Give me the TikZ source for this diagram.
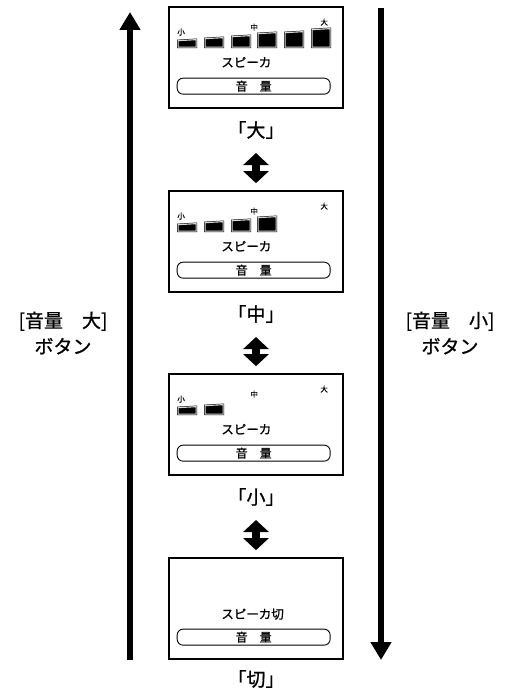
\documentclass[tikz,border=0pt]{standalone}
\usepackage{fontspec}
\setmainfont{Noto Sans CJK JP}[RawFeature={embolden=0.9}]
\usetikzlibrary{arrows.meta,calc}

\begin{document}
\begin{tikzpicture}[x=1pt,y=-1pt,
  screen/.style={draw, line width=1.7pt, minimum width=174pt, minimum height=101pt, inner sep=0pt},
  lvl/.style={font=\fontsize{19}{19}\selectfont, inner sep=0pt},
  tiny/.style={font=\fontsize{7.5}{7.5}\selectfont, inner sep=0pt},
  spk/.style={font=\fontsize{12.5}{12.5}\selectfont, inner sep=0pt, anchor=west},
  pill/.style={draw, line width=0.9pt, rounded corners=6pt, minimum width=153pt, minimum height=16pt, inner sep=0pt, font=\fontsize{12}{12}\selectfont},
  bar/.style={draw=black, line width=0.5pt, double=gray!30, double distance=1.1pt, fill=black},
  updown/.style={line width=8pt, {Triangle[width=25pt,length=12pt]}-{Triangle[width=25pt,length=12pt]}},
  big/.style={line width=6pt, -{Triangle[width=20pt,length=18pt]}},
  side/.style={align=center, font=\fontsize{19}{26}\selectfont, inner sep=0pt}]
\useasboundingbox (0,0) rectangle (504,693);
% four screens
\node[screen] (hi)  at (256,57.5)  {};
\node[screen] (md)  at (256,241.5) {};
\node[screen] (lo)  at (256,424.5) {};
\node[screen] (off) at (256,608.5) {};
% level bars and small marks
\foreach \s/\n in {hi/6,md/4,lo/2} {
  \foreach \bx/\bt [count=\i] in {10/34,37/32,64/30,90/27,117/26,144/23} {
    \ifnum\i>\n\else
      \draw[bar] ($(\s.north west)+(\bx,41)$) -- ($(\s.north west)+(\bx,\bt+0.5)$)
        -- ($(\s.north west)+(\bx+18,\bt-0.5)$) -- ($(\s.north west)+(\bx+18,41)$) -- cycle;
    \fi
  }
  \node[tiny] (\s-s) at ($(\s.north west)+(13,26)$) {小};
  \node[tiny] (\s-m) at ($(\s.north west)+(86,21)$) {中};
  \node[tiny] (\s-l) at ($(\s.north west)+(156,16)$) {大};
  \node[spk]  (\s-t) at ($(\s.north west)+(53,56)$) {スピーカ};
}
\node[spk] (off-t) at ($(off.north west)+(53,57)$) {スピーカ切};
% volume buttons
\foreach \s in {hi,md,lo,off}
  \node[pill] (\s-v) at ($(\s.north west)+(85.5,80)$) {音　量};
% level names
\node[lvl] (hiL)  at (256,130) {「大」};
\node[lvl] (mdL)  at (256,314) {「中」};
\node[lvl] (loL)  at (256,497) {「小」};
\node[lvl] (offL) at (256,679) {「切」};
\draw[updown] ($(hiL.center)+(0,23)$) -- ($(md.north)+(0,-7)$);
\draw[updown] ($(mdL.center)+(0,23)$) -- ($(lo.north)+(0,-7)$);
\draw[updown] ($(loL.center)+(0,23)$) -- ($(off.north)+(0,-7)$);
% side buttons
\coordinate (upBot) at (130,660);
\coordinate (upTop) at (130,12);
\coordinate (dnTop) at (381,8);
\coordinate (dnBot) at (381,660);
\draw[big] (upBot) -- (upTop);
\draw[big] (dnTop) -- (dnBot);
\node[side] (upL) at (63,333) {[音量　大]\\ボタン};
\node[side] (dnL) at (450,333) {[音量　小]\\ボタン};
\end{tikzpicture}
\end{document}
